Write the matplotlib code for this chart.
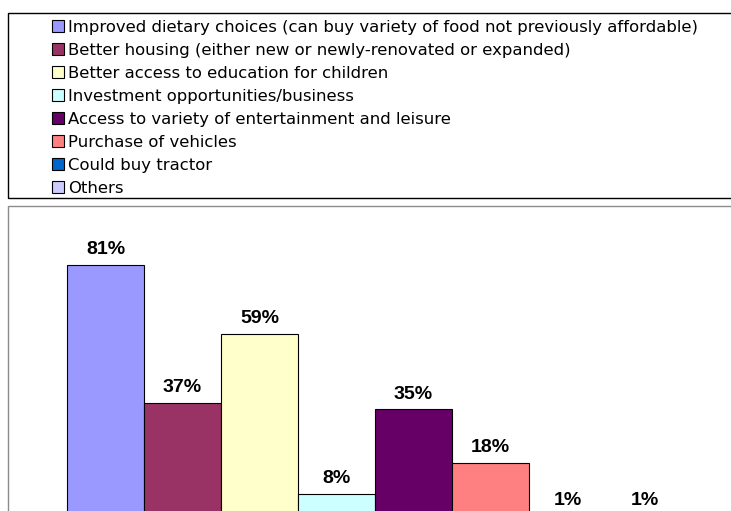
import matplotlib.pyplot as plt
from matplotlib.patches import Rectangle

categories = [
    "Improved dietary choices (can buy variety of food not previously affordable)",
    "Better housing (either new or newly-renovated or expanded)",
    "Better access to education for children",
    "Investment opportunities/business",
    "Access to variety of entertainment and leisure",
    "Purchase of vehicles",
    "Could buy tractor",
    "Others",
]
percent = [81, 37, 59, 8, 35, 18, 1, 1]
colors = ["#9999FF", "#993366", "#FFFFCC", "#CCFFFF",
          "#660066", "#FF8080", "#0066CC", "#CCCCFF"]

plt.rcParams["font.family"] = ["DejaVu Sans"]

W, H = 731, 511
fig = plt.figure(figsize=(W / 100, H / 100), dpi=100)


def fx(px):
    return px / W


def fy(py):
    return 1 - py / H


# legend box and chart frame (both run off the right edge)
fig.patches.append(Rectangle((fx(8), fy(198)), fx(740) - fx(8), fy(13) - fy(198),
                             transform=fig.transFigure, fill=False,
                             edgecolor="black", lw=1.0))
fig.patches.append(Rectangle((fx(8), fy(540)), fx(740) - fx(8), fy(206) - fy(540),
                             transform=fig.transFigure, fill=False,
                             edgecolor="#8c8c8c", lw=1.0))

ymax = 90
px_per_pct = 3.136
base = 519
top = base - ymax * px_per_pct
ax = fig.add_axes([fx(67), fy(base), fx(683) - fx(67), fy(top) - fy(base)])
ax.set_xlim(-0.5, len(percent) - 0.5)
ax.set_ylim(0, ymax)
ax.axis("off")

handles = []
for i, (cat, v, c) in enumerate(zip(categories, percent, colors)):
    b = ax.bar(i, v, width=1.0, color=c, edgecolor="black", lw=0.8,
               label=cat, clip_on=False)
    handles.append(b)
    ax.annotate(f"{v}%", (i, v), xytext=(0, 7.6), textcoords="offset points",
                ha="center", va="baseline", fontsize=14, fontweight="bold",
                family=["Liberation Sans"], clip_on=False)

fig.legend(handles=handles, loc="upper left",
           bbox_to_anchor=(fx(52), fy(20)),
           frameon=False, fontsize=11.85, handlelength=0.73, handleheight=0.73,
           handletextpad=0.25, labelspacing=0.485, borderpad=0, borderaxespad=0)

fig.savefig("out.png", dpi=100)
